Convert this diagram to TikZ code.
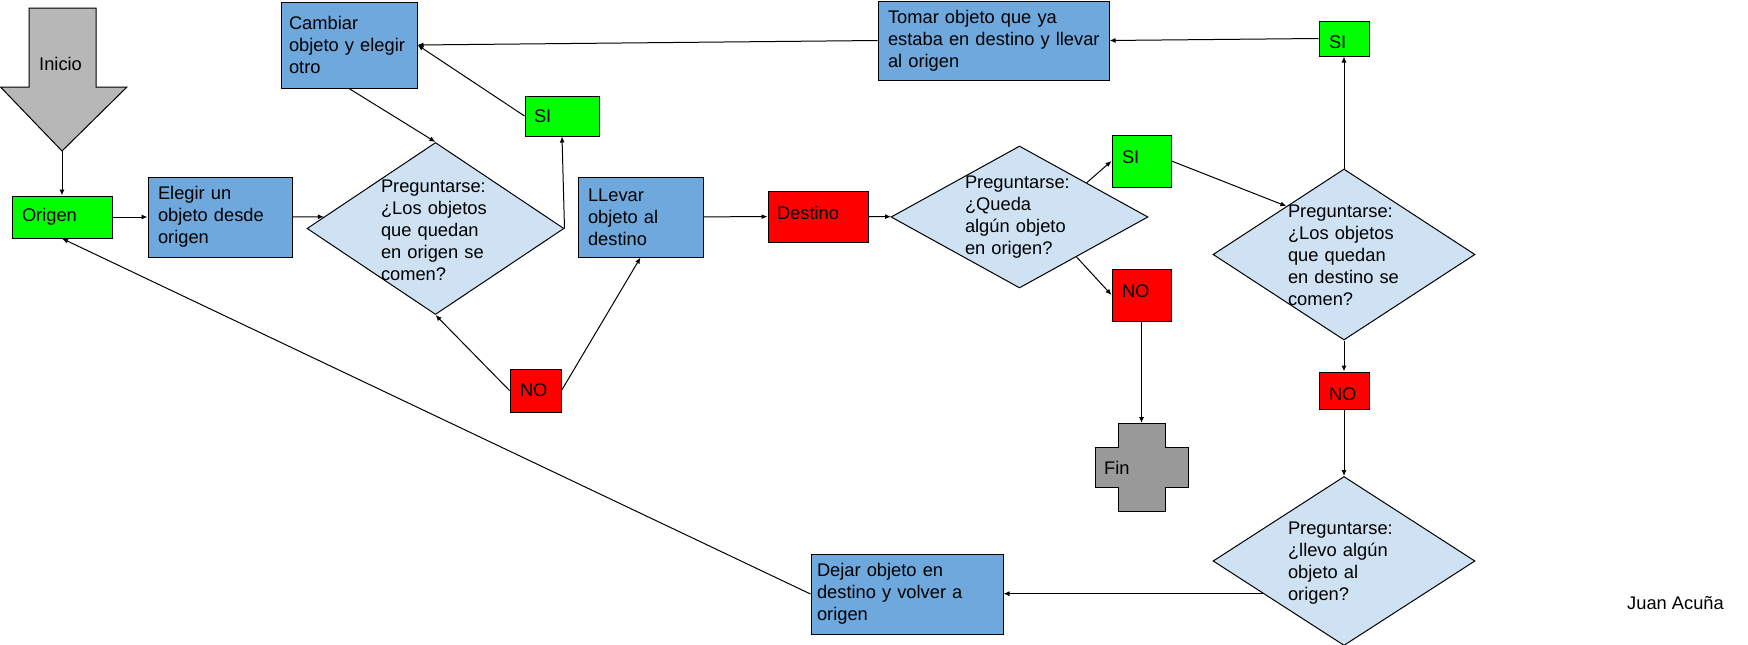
\documentclass[tikz,border=0pt]{standalone}
\usepackage{fontspec}
\setmainfont{Liberation Sans}
\usetikzlibrary{shapes.geometric, arrows.meta}
\definecolor{cgreen}{HTML}{00FF00}
\definecolor{cblue}{HTML}{6FA8DC}
\definecolor{cred}{HTML}{FF0000}
\definecolor{clight}{HTML}{CFE2F3}
\definecolor{cfin}{HTML}{999999}
\definecolor{cini}{HTML}{B7B7B7}
\newcommand{\dfont}{\fontsize{18.3pt}{22pt}\selectfont\hyphenpenalty=10000\exhyphenpenalty=10000}
\begin{document}
\begin{tikzpicture}[x=1pt, y=-1pt,
  box/.style={draw=black, line width=1pt, rectangle, inner sep=0pt, align=left, font=\dfont},
  dia/.style={draw=black, line width=1pt, diamond, inner sep=0pt, fill=clight},
  qtext/.style={inner sep=0pt, align=left, font=\dfont},
  plain/.style={inner sep=0pt, font=\dfont},
  raised/.style={text height=13pt, text depth=8pt},
  lowered/.style={text height=19pt, text depth=0pt},
  arr/.style={line width=1pt, -{Latex[length=6pt,width=5pt]}}
]
\useasboundingbox (0,0) rectangle (1748,645);

% Inicio arrow shape
\draw[line width=1pt, fill=cini] (29,8) -- (96,8) -- (96,87) -- (127,87) -- (62,151) -- (0.5,87) -- (29,87) -- cycle;
\node[plain, anchor=west] (inicio) at (39,64) {Inicio};
\coordinate (initip) at (62,151);

% Fin cross shape
\draw[line width=1pt, fill=cfin] (1118,423) -- (1165,423) -- (1165,447) -- (1188,447) -- (1188,487) -- (1165,487) -- (1165,511) -- (1118,511) -- (1118,487) -- (1095,487) -- (1095,447) -- (1118,447) -- cycle;
\node[plain, anchor=west] (fin) at (1104,468) {Fin};
\coordinate (fintop) at (1141.5,423);

% Boxes
\node[box, fill=cgreen, minimum width=100pt, minimum height=42pt, text width=80pt] (origen) at (62,217) {Origen};
\node[box, fill=cblue, minimum width=144pt, minimum height=80pt, text width=124pt] (elegir) at (220,217) {Elegir un\\objeto desde\\origen};
\node[box, fill=cblue, minimum width=136pt, minimum height=86pt, text width=120pt] (cambiar) at (349,45) {Cambiar\\objeto y elegir\\otro};
\node[box, fill=cgreen, minimum width=74pt, minimum height=40pt, text width=56pt] (si1) at (562,116) {SI};
\node[box, fill=cred, minimum width=51pt, minimum height=43pt, text width=31pt] (no1) at (535.5,390.5) {NO};
\node[box, fill=cblue, minimum width=125pt, minimum height=80pt, text width=105pt] (llevar) at (640.5,217) {LLevar\\objeto al\\destino};
\node[box, raised, fill=cred, minimum width=100pt, minimum height=51pt, text width=82pt] (destino) at (818,216.5) {Destino};

\node[dia, minimum width=257pt, minimum height=172pt] (d1) at (435.5,228.5) {};
\node[qtext, text width=109pt] (d1t) at (435.5,230) {Preguntarse:\\¿Los objetos\\que quedan\\en origen se\\comen?};

\node[dia, minimum width=257pt, minimum height=142pt] (d2) at (1019.5,217) {};
\node[qtext, text width=109pt] (d2t) at (1019.5,217) {Preguntarse:\\¿Queda\\algún objeto\\en origen?};

\node[box, raised, fill=cgreen, minimum width=59pt, minimum height=52pt, text width=39pt] (si2) at (1141.5,161) {SI};
\node[box, raised, fill=cred, minimum width=59pt, minimum height=52pt, text width=39pt] (no2) at (1141.5,295) {NO};

\node[dia, minimum width=262pt, minimum height=171pt] (d3) at (1344,254.5) {};
\node[qtext, text width=112pt] (d3t) at (1344,255) {Preguntarse:\\¿Los objetos\\que quedan\\en destino se\\comen?};

\node[box, lowered, fill=cgreen, minimum width=50pt, minimum height=35pt, text width=30pt] (si3) at (1344,38.5) {SI};
\node[box, fill=cblue, minimum width=231pt, minimum height=79pt, text width=211pt] (tomar) at (993.5,40.5) {\mbox{Tomar objeto que ya}\\\mbox{estaba en destino y llevar}\\\mbox{al origen}};
\node[box, lowered, fill=cred, minimum width=50pt, minimum height=37pt, text width=30pt] (no3) at (1344,390.5) {NO};

\node[dia, minimum width=262pt, minimum height=169pt] (d4) at (1344,561) {};
\node[qtext, text width=112pt] (d4t) at (1344,563) {Preguntarse:\\¿llevo algún\\objeto al\\origen?};

\node[box, fill=cblue, minimum width=192pt, minimum height=80pt, text width=180pt] (dejar) at (907,594) {Dejar objeto en\\destino y volver a\\origen};

\node[plain, anchor=west] (juan) at (1627,603) {Juan Acuña};

% Connectors
\draw[arr] (initip) -- (origen);
\draw[arr] (origen) -- (elegir);
\draw[arr] (elegir.east) -- (d1.174);
\draw[arr] (cambiar.south) -- (d1.north);
\draw[arr] (d1.east) -- (si1.south);
\draw[arr] (si1.west) -- (cambiar.east);
\draw[arr] (tomar.west) -- (cambiar.east);
\draw[arr] (si3.west) -- (tomar.east);
\draw[arr] (no1.west) -- (d1.south);
\draw[arr] (no1.east) -- (llevar.south);
\draw[arr] (llevar) -- (destino);
\draw[arr] (destino) -- (d2);
\draw[arr] (d2.27) -- (si2.west);
\draw[arr] (d2.325) -- (no2.west);
\draw[arr] (no2) -- (fintop);
\draw[arr] (si2.east) -- (d3.140);
\draw[arr] (d3.north) -- (si3.south);
\draw[arr] (d3.south) -- (no3.north);
\draw[arr] (no3.south) -- (d4.north);
\draw[arr] (d4.202) -- (d4.202 -| dejar.east);
\draw[arr] (dejar.west) -- (origen.south);
\end{tikzpicture}
\end{document}
